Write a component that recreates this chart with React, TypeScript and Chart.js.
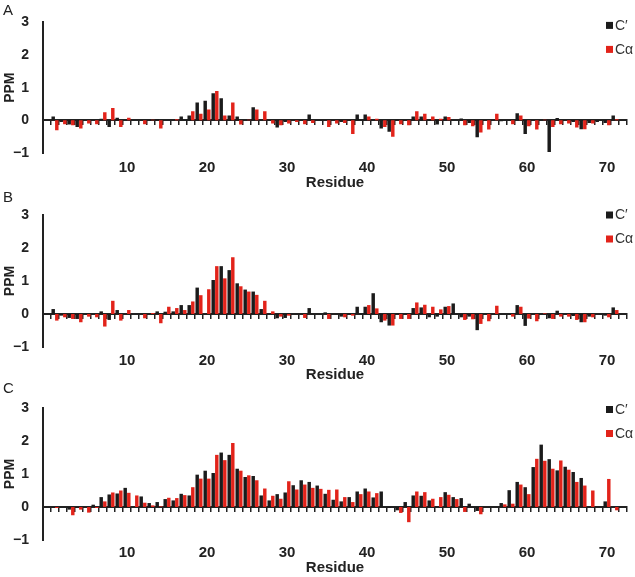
import { useEffect, useRef } from 'react';
import { Chart, registerables } from 'chart.js';

Chart.register(...registerables);
Chart.defaults.font.family = '"Liberation Sans", Arial, sans-serif';

// ---------- data ----------
const residues = [
  '0', '1', '2', '3', '4', '5', '6', '7', '8', '9', '10', '11', '12', '13', '14', '15', '16', '17', '18', '19', '20',
  '21', '22', '23', '24', '25', '26', '27', '28', '29', '30', '31', '32', '33', '34', '35', '36', '37', '38', '39', '40',
  '41', '42', '43', '44', '45', '46', '47', '48', '49', '50', '51', '52', '53', '54', '55', '56', '57', '58', '59', '60',
  '61', '62', '63', '64', '65', '66', '67', '68', '69', '70', '71', '72',
];
const xTickLabels = ['10', '20', '30', '40', '50', '60', '70'];
const yTickValues = [-1, 0, 1, 2, 3];
const yTickLabels = ['\u22121', '0', '1', '2', '3'];
const seriesNames = ['C\u2032', 'C\u03b1'];
const panelLetters = ['A', 'B', 'C'];
const xTitle = 'Residue';
const yTitle = 'PPM';

// residues 1..72
const cPrimeA = [
  0.12, -0.05, -0.13, -0.2, 0, 0, 0.05, -0.2, 0.08, 0,
  0, 0, 0, 0.03, 0, 0, 0.12, 0.15, 0.55, 0.6,
  0.83, 0.68, 0.15, 0.12, 0, 0.4, 0, 0, -0.22, -0.05,
  0, 0, 0.18, 0, 0, 0, -0.05, 0, 0.18, 0.18,
  0, -0.25, -0.35, 0.02, 0, 0.12, 0.12, 0.02, -0.13, 0.12,
  0, 0.06, -0.08, -0.52, 0, 0, -0.03, 0, 0.22, -0.42,
  0, 0, -0.97, 0.07, 0, -0.05, -0.27, -0.08, -0.05, -0.08,
  0.15, 0,
];
const cAlphaA = [
  -0.3, -0.12, -0.15, -0.25, -0.1, -0.12, 0.25, 0.38, -0.2, 0.08,
  0, -0.12, 0.02, -0.25, 0, 0.03, 0, 0.28, 0.2, 0.33,
  0.9, 0.15, 0.55, -0.13, 0.02, 0.33, 0.28, -0.1, -0.15, -0.1,
  -0.05, -0.12, -0.08, 0, -0.2, -0.1, -0.08, -0.42, 0, 0.12,
  0.05, -0.2, -0.5, -0.12, -0.15, 0.28, 0.2, 0.12, 0.05, 0.1,
  0, -0.15, -0.18, -0.37, -0.28, 0.2, 0, -0.12, 0.15, -0.18,
  -0.28, 0.02, -0.2, -0.12, -0.1, -0.22, -0.27, -0.1, 0, -0.15,
  0.03, 0,
];
const cPrimeB = [
  0.15, -0.05, -0.12, -0.15, 0, 0, 0.08, -0.18, 0.12, 0,
  0, 0, 0, 0.08, 0.07, 0.08, 0.27, 0.27, 0.8, 0,
  1.03, 1.45, 1.33, 0.93, 0.74, 0.68, 0.15, 0, -0.13, -0.12,
  0, 0, 0.18, 0, 0.05, 0, -0.08, 0.03, 0.22, 0.22,
  0.63, -0.25, -0.35, 0.02, 0, 0.18, 0.2, -0.1, -0.08, 0.22,
  0.32, -0.1, -0.08, -0.49, 0, 0, 0, 0, 0.27, -0.36,
  0, 0, -0.13, 0.1, 0, -0.06, -0.25, -0.08, 0, -0.05,
  0.2, 0,
];
const cAlphaB = [
  -0.2, -0.1, -0.15, -0.25, -0.08, -0.1, -0.38, 0.4, -0.2, 0.12,
  0, -0.13, 0.03, -0.28, 0.22, 0.18, 0.12, 0.38, 0.57, 0.75,
  1.45, 1.08, 1.72, 0.84, 0.68, 0.58, 0.4, 0.08, -0.08, -0.05,
  0, -0.12, 0, 0, -0.15, 0, -0.1, -0.05, 0, 0.27,
  0.17, -0.2, -0.35, -0.15, -0.15, 0.35, 0.28, 0.22, 0.14, 0.24,
  0, -0.18, -0.16, -0.3, -0.22, 0.25, 0, -0.08, 0.22, -0.14,
  -0.22, 0.02, -0.15, -0.08, -0.08, -0.18, -0.25, -0.1, 0, -0.1,
  0.12, 0,
];
const cPrimeC = [
  -0.02, 0, -0.08, -0.03, 0, 0.07, 0.3, 0.38, 0.41, 0.58,
  0, 0.32, 0.12, 0.15, 0.24, 0.2, 0.4, 0.35, 0.98, 1.1,
  1.03, 1.65, 1.58, 1.16, 0.91, 0.94, 0.35, 0.2, 0.39, 0.44,
  0.66, 0.81, 0.76, 0.65, 0.4, 0.22, 0.17, 0.3, 0.47, 0.56,
  0.29, 0.47, -0.03, -0.1, 0.15, 0.35, 0.34, 0.2, 0, 0.45,
  0.3, 0.27, 0.1, -0.12, 0, 0, 0.12, 0.51, 0.76, 0.6,
  1.21, 1.89, 1.45, 1.11, 1.22, 1.06, 0.88, 0, 0, 0.17,
  0, 0,
];
const cAlphaC = [
  -0.03, 0, -0.25, -0.08, -0.17, -0.03, 0.17, 0.44, 0.5, 0.43,
  0.35, 0.13, 0.05, 0.02, 0.28, 0.27, 0.36, 0.6, 0.86, 0.86,
  1.58, 1.42, 1.94, 1.1, 0.96, 0.81, 0.56, 0.34, 0.25, 0.78,
  0.53, 0.68, 0.58, 0.55, 0.52, 0.53, 0.3, 0.15, 0.39, 0.47,
  0.42, 0, 0, -0.18, -0.46, 0.47, 0.45, 0.25, 0.3, 0.37,
  0.24, -0.15, 0, -0.22, 0, 0, 0.08, 0.1, 0.68, 0.39,
  1.46, 1.4, 1.16, 1.41, 1.13, 0.76, 0.65, 0.5, 0, 0.85,
  -0.1, 0,
];

// ---------- styles / layout ----------
const BLACK = '#1b1b1b';
const RED = '#e2231a';
const AXIS = '#222222';
const TEXT = '#222222';
const W = 635;

const panelLayouts = [
  { top: 0, height: 192, chartTop: 20, chartBottom: 153, tickPad: 6, letterBase: 15, legendDy: 3 },
  { top: 186, height: 198, chartTop: 29, chartBottom: 161, tickPad: 5, letterBase: 16, legendDy: 0 },
  { top: 376, height: 201, chartTop: 32, chartBottom: 164, tickPad: 4, letterBase: 17, legendDy: 1.5 },
];

type Layout = typeof panelLayouts[number];

function makeDeco(L: Layout, letter: string) {
  return {
    id: 'deco' + letter,
    afterDraw(chart: any) {
      const { ctx, chartArea } = chart;
      ctx.save();
      ctx.fillStyle = TEXT;
      ctx.font = '15px "Liberation Sans", Arial, sans-serif';
      ctx.textAlign = 'left';
      ctx.textBaseline = 'alphabetic';
      ctx.fillText(letter, 3, L.letterBase);
      chart.data.datasets.forEach((ds: any, i: number) => {
        const cy = chartArea.top + L.legendDy + i * 24;
        ctx.fillStyle = ds.backgroundColor;
        ctx.fillRect(chartArea.right - 21, cy - 3.5, 7, 7);
        ctx.fillStyle = '#333333';
        ctx.font = '14px "Liberation Sans", Arial, sans-serif';
        ctx.textBaseline = 'middle';
        ctx.fillText(ds.label, chartArea.right - 12, cy + 0.5);
      });
      ctx.restore();
    },
  };
}

function Panel({ index, cPrime, cAlpha }: { index: number; cPrime: number[]; cAlpha: number[] }) {
  const ref = useRef<HTMLCanvasElement>(null);
  const L = panelLayouts[index];
  useEffect(() => {
    if (!ref.current) return;
    const chart = new Chart(ref.current, {
      type: 'bar',
      data: {
        labels: residues,
        datasets: [
          {
            label: seriesNames[0],
            data: [null, ...cPrime],
            backgroundColor: BLACK,
            xAxisID: 'x',
            yAxisID: 'y',
            categoryPercentage: 0.9,
            barPercentage: 0.96,
          },
          {
            label: seriesNames[1],
            data: [null, ...cAlpha],
            backgroundColor: RED,
            xAxisID: 'x',
            yAxisID: 'y',
            categoryPercentage: 0.9,
            barPercentage: 0.96,
          },
        ],
      },
      options: {
        responsive: false,
        animation: false,
        devicePixelRatio: 1,
        layout: { padding: { top: L.chartTop, right: 8, bottom: 0, left: 0 } },
        plugins: { legend: { display: false }, tooltip: { enabled: false } },
        scales: {
          x: {
            type: 'category',
            position: 'bottom',
            grid: { display: false, drawTicks: false },
            border: { display: false },
            ticks: {
              autoSkip: false,
              maxRotation: 0,
              minRotation: 0,
              padding: L.tickPad,
              color: TEXT,
              font: { size: 15, weight: 'bold' },
              callback: (_v: any, i: number) => (xTickLabels.includes(residues[i]) ? residues[i] : ''),
            },
            title: {
              display: true,
              text: xTitle,
              color: TEXT,
              font: { size: 15, weight: 'bold' },
              padding: { top: 0, bottom: 0 },
            },
            afterFit: (s: any) => {
              s.height = L.height - L.chartBottom;
            },
          },
          xz: {
            type: 'category',
            position: { y: 0 },
            z: 1,
            grid: {
              display: true,
              drawOnChartArea: false,
              drawTicks: true,
              tickLength: 4,
              lineWidth: 1.5,
              color: AXIS,
            },
            border: { display: true, width: 2, color: AXIS },
            ticks: { display: false },
          },
          y: {
            type: 'linear',
            position: 'left',
            min: -1,
            max: 3,
            grid: { display: false, drawTicks: false },
            border: { display: true, width: 2, color: AXIS },
            ticks: {
              stepSize: 1,
              padding: 14,
              color: TEXT,
              font: { size: 14, weight: 'bold' },
              callback: (v: any) => {
                const k = yTickValues.indexOf(Number(v));
                return k >= 0 ? yTickLabels[k] : '';
              },
            },
            title: {
              display: true,
              text: yTitle,
              color: TEXT,
              font: { size: 14, weight: 'bold' },
              padding: { top: 2, bottom: 0 },
            },
            afterFit: (s: any) => {
              s.width = 43;
            },
          },
        },
      } as any,
      plugins: [makeDeco(L, panelLetters[index])],
    });
    return () => chart.destroy();
  }, []);
  return (
    <div style={{ position: 'absolute', left: 0, top: L.top, width: W, height: L.height, pointerEvents: 'none' }}>
      <canvas ref={ref} width={W} height={L.height} style={{ width: W, height: L.height, display: 'block' }} />
    </div>
  );
}

export default function App() {
  return (
    <div style={{ position: 'absolute', left: 0, top: 0, width: W, height: 577, background: '#ffffff' }}>
      <Panel index={0} cPrime={cPrimeA} cAlpha={cAlphaA} />
      <Panel index={1} cPrime={cPrimeB} cAlpha={cAlphaB} />
      <Panel index={2} cPrime={cPrimeC} cAlpha={cAlphaC} />
    </div>
  );
}
